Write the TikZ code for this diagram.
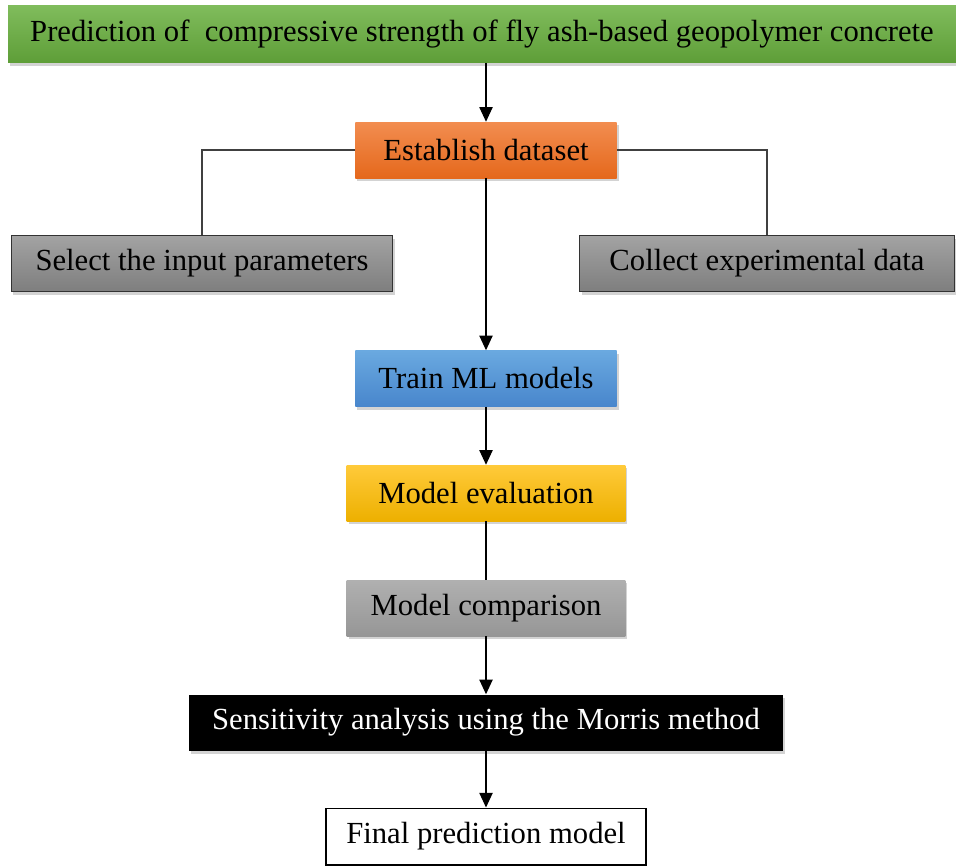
\documentclass[tikz,border=0pt]{standalone}
\usepackage{fontspec}
\setmainfont{Liberation Serif}
\usetikzlibrary{arrows.meta,shadows}

\definecolor{greentop}{HTML}{80BC5C}
\definecolor{greenbot}{HTML}{5E9E38}
\definecolor{orangetop}{HTML}{F28D50}
\definecolor{orangebot}{HTML}{E5681C}
\definecolor{bluetop}{HTML}{6AA9E0}
\definecolor{bluebot}{HTML}{4886CC}
\definecolor{yellowtop}{HTML}{FFCA3A}
\definecolor{yellowbot}{HTML}{EDB000}
\definecolor{graytop}{HTML}{A3A3A3}
\definecolor{graybot}{HTML}{7E7E7E}
\definecolor{lgraytop}{HTML}{B0B0B0}
\definecolor{lgraybot}{HTML}{969696}
\definecolor{linkgray}{HTML}{404040}

\begin{document}
\begin{tikzpicture}[x=0.75pt,y=-0.75pt,
    box/.style={rectangle, inner sep=0pt, minimum height=42pt,
        font=\fontsize{23}{27}\selectfont,
        drop shadow={shadow xshift=1.5pt, shadow yshift=-2.5pt, opacity=0.35}},
    flow/.style={-{Triangle[width=10pt,length=11pt]}, line width=0.9pt},
    link/.style={line width=0.9pt, draw=linkgray}]

% keep the page the size of the reference
    \useasboundingbox (0,0) rectangle (956,867);

% title box at the top
    \node[box, top color=greentop, bottom color=greenbot, minimum width=711pt, minimum height=43pt] (title) at (482,34)
        {Prediction of\ \ compressive strength of fly ash-based geopolymer concrete};

% dataset and the two branches feeding it
    \node[box, top color=orangetop, bottom color=orangebot, minimum width=196pt] (dataset) at (486,150) {Establish dataset};
    \node[box, top color=graytop, bottom color=graybot, draw=black!80, minimum width=286pt] (inputs) at (202,263.5) {Select the input parameters};
    \node[box, top color=graytop, bottom color=graybot, draw=black!80, minimum width=281pt] (expdata) at (767,263.5) {Collect experimental data};

% main chain of steps
    \node[box, top color=bluetop, bottom color=bluebot, minimum width=196pt] (train) at (486,378.5) {Train ML models};
    \node[box, top color=yellowtop, bottom color=yellowbot, minimum width=209pt] (evaluate) at (486,493) {Model evaluation};
    \node[box, top color=lgraytop, bottom color=lgraybot, minimum width=209pt] (compare) at (486,608) {Model comparison};
    \node[box, fill=black, text=white, minimum width=445pt] (morris) at (486,722.5) {Sensitivity analysis using the Morris method};

% last box has no shadow
    \node[rectangle, inner sep=0pt, minimum height=42.5pt, minimum width=240pt, draw=black, line width=1pt,
        fill=white, font=\fontsize{23}{27}\selectfont] (final) at (486,836.5) {Final prediction model};

% connectors
    \draw[flow] (title.south -| dataset) -- (dataset);
    \draw[link] (dataset.west) -| (inputs.north);
    \draw[link] (dataset.east) -| (expdata.north);
    \draw[flow] (dataset) -- (train);
    \draw[flow] (train) -- (evaluate);
    \draw[line width=0.9pt] (evaluate) -- (compare);
    \draw[flow] (compare) -- (morris);
    \draw[flow] (morris) -- (final);

\end{tikzpicture}
\end{document}
